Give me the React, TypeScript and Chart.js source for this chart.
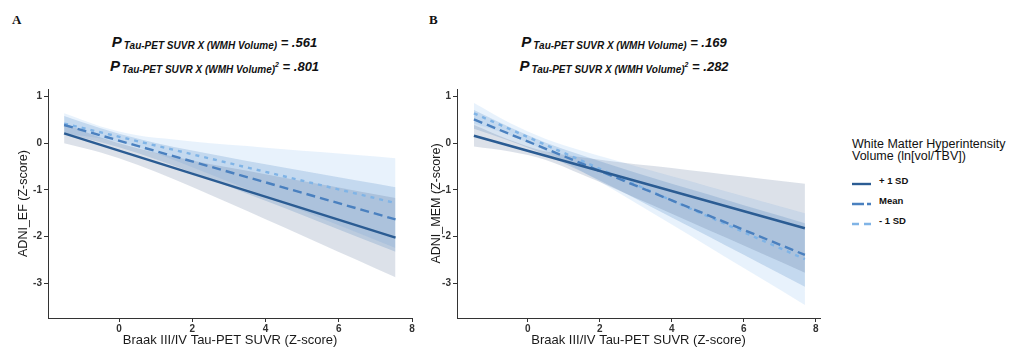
import React, { useEffect, useRef } from 'react';
import { Chart, registerables } from 'chart.js';

Chart.register(...registerables);

const FONT = '"Liberation Sans", Arial, Helvetica, sans-serif';

// ---------- Panel A : ADNI_EF ----------
const efLineX = [-1.5, 7.55];
const efPlusLine = [0.21, -2.02];
const efMeanLine = [0.39, -1.63];
const efMinusLine = [0.42, -1.28];
const efBandX = [-1.5, -0.5, 0.5, 1.5, 2.5, 3.5, 4.5, 5.5, 6.5, 7.55];
const efPlusUpper = [0.42, 0.12, -0.11, -0.29, -0.45, -0.59, -0.74, -0.88, -1.02, -1.17];
const efPlusLower = [0.0, -0.2, -0.46, -0.77, -1.11, -1.45, -1.8, -2.15, -2.5, -2.87];
const efMeanUpper = [0.58, 0.32, 0.1, -0.08, -0.23, -0.38, -0.52, -0.66, -0.8, -0.94];
const efMeanLower = [0.2, 0.02, -0.21, -0.48, -0.77, -1.08, -1.38, -1.69, -2.0, -2.32];
const efMinusUpper = [0.64, 0.36, 0.17, 0.08, 0.0, -0.06, -0.13, -0.19, -0.25, -0.32];
const efMinusLower = [0.2, 0.1, -0.08, -0.36, -0.67, -0.98, -1.29, -1.6, -1.91, -2.24];
const efXTicks = [0, 2, 4, 6, 8];
const efPValues = ['.561', '.801'];

// ---------- Panel B : ADNI_MEM ----------
const memLineX = [-1.5, 7.7];
const memPlusLine = [0.16, -1.82];
const memMeanLine = [0.51, -2.39];
const memMinusLine = [0.64, -2.48];
const memBandX = [-1.5, -0.5, 0.5, 1.5, 2.5, 3.5, 4.5, 5.5, 6.5, 7.7];
const memPlusUpper = [0.39, 0.07, -0.18, -0.3, -0.4, -0.49, -0.58, -0.67, -0.76, -0.87];
const memPlusLower = [-0.07, -0.18, -0.36, -0.67, -1.0, -1.34, -1.68, -2.02, -2.36, -2.77];
const memMeanUpper = [0.71, 0.34, 0.01, -0.26, -0.51, -0.75, -0.98, -1.21, -1.44, -1.71];
const memMeanLower = [0.31, 0.05, -0.25, -0.61, -0.99, -1.39, -1.79, -2.19, -2.59, -3.07];
const memMinusUpper = [0.86, 0.43, 0.09, -0.16, -0.38, -0.6, -0.81, -1.03, -1.24, -1.5];
const memMinusLower = [0.42, 0.17, -0.17, -0.6, -1.05, -1.51, -1.97, -2.44, -2.9, -3.46];
const memXTicks = [0, 2, 4, 6, 8];
const memPValues = ['.169', '.282'];

// ---------- shared ----------
const yTicks = [1, 0, -1, -2, -3];
const xAxisTitle = 'Braak III/IV Tau-PET SUVR (Z-score)';
const legendTitle = ['White Matter Hyperintensity', 'Volume (ln[vol/TBV])'];
const legendLabels = ['+ 1 SD', 'Mean', '- 1 SD'];
const subText = 'Tau-PET SUVR X (WMH Volume)';

const LINE_COLORS = ['#2b5c93', '#4a80bf', '#80b4e6'];
const BAND_COLORS = ['rgba(70, 95, 140, 0.19)', 'rgba(60, 125, 190, 0.21)', 'rgba(120, 180, 235, 0.17)'];
const DASHES: number[][] = [[], [9, 5], [4, 5]];

type PanelCfg = {
  yTitle: string;
  lineX: number[];
  lines: number[][];
  bandX: number[];
  bands: number[][][];
  xTicks: number[];
  xMin: number;
  xMax: number;
  yAxisWidth: number;
  yTitlePad: number;
  padRight: number;
};

const toPts = (xs: number[], ys: number[]) => xs.map((x, i) => ({ x, y: ys[i] }));

function buildConfig(p: PanelCfg): any {
  const datasets: any[] = [];
  p.lines.forEach((ys, i) => {
    datasets.push({
      label: legendLabels[i],
      data: toPts(p.lineX, ys),
      borderColor: LINE_COLORS[i],
      borderWidth: 2.4,
      borderDash: DASHES[i],
      pointRadius: 0,
      fill: false,
      tension: 0,
      order: 0,
    });
  });
  p.bands.forEach(([up, lo], i) => {
    datasets.push({
      label: 'band-up-' + i,
      data: toPts(p.bandX, up),
      borderWidth: 0,
      borderColor: 'rgba(0,0,0,0)',
      backgroundColor: BAND_COLORS[i],
      pointRadius: 0,
      fill: '+1',
      cubicInterpolationMode: 'monotone',
      order: 1,
    });
    datasets.push({
      label: 'band-lo-' + i,
      data: toPts(p.bandX, lo),
      borderWidth: 0,
      borderColor: 'rgba(0,0,0,0)',
      pointRadius: 0,
      fill: false,
      cubicInterpolationMode: 'monotone',
      order: 1,
    });
  });

  const grid = { display: true, drawOnChartArea: false, drawTicks: true, tickLength: 4, color: '#333', lineWidth: 1 };
  const border = { display: true, color: '#333', width: 1 };
  const tickFont = { family: FONT, size: 10, weight: 'bold' as const };

  return {
    type: 'line',
    data: { datasets },
    options: {
      animation: false,
      responsive: false,
      maintainAspectRatio: false,
      layout: { padding: { left: 0, right: p.padRight, top: 9, bottom: 0 } },
      plugins: { legend: { display: false }, tooltip: { enabled: false } },
      scales: {
        x: {
          type: 'linear',
          min: p.xMin,
          max: p.xMax,
          afterBuildTicks: (ax: any) => {
            ax.ticks = p.xTicks.map((v) => ({ value: v }));
          },
          afterFit: (s: any) => {
            s.height = 32;
          },
          grid,
          border,
          ticks: { autoSkip: false, maxRotation: 0, padding: 1, color: '#333', font: tickFont, callback: (v: any) => String(v) },
          title: { display: true, text: xAxisTitle, color: '#1a1a1a', font: { family: FONT, size: 13 }, padding: { top: 0, bottom: 1.5 } },
        },
        y: {
          type: 'linear',
          min: -3.74,
          max: 1.16,
          afterBuildTicks: (ax: any) => {
            ax.ticks = yTicks.map((v) => ({ value: v }));
          },
          afterFit: (s: any) => {
            s.width = p.yAxisWidth;
          },
          grid,
          border,
          ticks: { autoSkip: false, padding: 2, color: '#333', font: tickFont, callback: (v: any) => String(v) },
          title: { display: true, text: p.yTitle, color: '#1a1a1a', font: { family: FONT, size: 12.5 }, padding: { top: p.yTitlePad, bottom: 0 } },
        },
      },
    },
  };
}

const panelA: PanelCfg = {
  yTitle: 'ADNI_EF (Z-score)',
  lineX: efLineX,
  lines: [efPlusLine, efMeanLine, efMinusLine],
  bandX: efBandX,
  bands: [
    [efPlusUpper, efPlusLower],
    [efMeanUpper, efMeanLower],
    [efMinusUpper, efMinusLower],
  ],
  xTicks: efXTicks,
  xMin: -1.94,
  xMax: 8.0,
  yAxisWidth: 48,
  yTitlePad: 16.5,
  padRight: 8,
};

const panelB: PanelCfg = {
  yTitle: 'ADNI_MEM (Z-score)',
  lineX: memLineX,
  lines: [memPlusLine, memMeanLine, memMinusLine],
  bandX: memBandX,
  bands: [
    [memPlusUpper, memPlusLower],
    [memMeanUpper, memMeanLower],
    [memMinusUpper, memMinusLower],
  ],
  xTicks: memXTicks,
  xMin: -1.97,
  xMax: 8.12,
  yAxisWidth: 47,
  yTitlePad: 19.5,
  padRight: 10,
};

function PanelChart({ left, cfg }: { left: number; cfg: PanelCfg }) {
  const ref = useRef<HTMLCanvasElement | null>(null);
  useEffect(() => {
    if (!ref.current) return;
    const chart = new Chart(ref.current, buildConfig(cfg));
    return () => chart.destroy();
  }, []);
  return (
    <canvas
      ref={ref}
      width={420}
      height={270}
      style={{ position: 'absolute', left, top: 80, width: 420, height: 270 }}
    />
  );
}

function PTitle({ cx, top, squared, value }: { cx: number; top: number; squared: boolean; value: string }) {
  return (
    <div
      style={{
        position: 'absolute',
        left: cx,
        top,
        transform: 'translateX(-50%)',
        whiteSpace: 'nowrap',
        fontFamily: FONT,
        fontStyle: 'italic',
        fontWeight: 'bold',
        color: '#111',
        fontSize: 15,
        lineHeight: '16px',
      }}
    >
      <span>P</span>
      <span style={{ fontSize: 10, position: 'relative', top: 2, marginLeft: 2 }}>
        {subText}
        {squared && <span style={{ fontSize: 7, position: 'relative', top: -6 }}>2</span>}
      </span>
      <span style={{ fontSize: 13 }}>{' = ' + value}</span>
    </div>
  );
}

function LegendKey({ idx, top }: { idx: number; top: number }) {
  const dash = idx === 0 ? undefined : idx === 1 ? '12 3' : '7 5';
  return (
    <div style={{ position: 'absolute', left: 852, top, height: 12 }}>
      <svg width={19} height={6} style={{ position: 'absolute', left: 0, top: 2 }}>
        <line x1={0} y1={3} x2={19} y2={3} stroke={LINE_COLORS[idx]} strokeWidth={2.4} strokeDasharray={dash} />
      </svg>
      <div
        style={{
          position: 'absolute',
          left: 27,
          top: -3,
          whiteSpace: 'nowrap',
          fontFamily: FONT,
          fontSize: 9.5,
          fontWeight: 'bold',
          lineHeight: '10px',
          color: '#111',
        }}
      >
        {legendLabels[idx]}
      </div>
    </div>
  );
}

export default function App() {
  return (
    <div
      style={{
        position: 'absolute',
        left: 0,
        top: 0,
        width: 1011,
        height: 350,
        background: '#fff',
        overflow: 'hidden',
      }}
    >
      <div style={{ position: 'absolute', left: 12, top: 12, fontFamily: '"Liberation Serif", "Times New Roman", serif', fontWeight: 'bold', fontSize: 13, color: '#111' }}>A</div>
      <div style={{ position: 'absolute', left: 429, top: 12, fontFamily: '"Liberation Serif", "Times New Roman", serif', fontWeight: 'bold', fontSize: 13, color: '#111' }}>B</div>

      <PTitle cx={214.5} top={33.5} squared={false} value={efPValues[0]} />
      <PTitle cx={214.5} top={57.8} squared={true} value={efPValues[1]} />
      <PTitle cx={624} top={33.5} squared={false} value={memPValues[0]} />
      <PTitle cx={624} top={57.8} squared={true} value={memPValues[1]} />

      <PanelChart left={0} cfg={panelA} />
      <PanelChart left={410} cfg={panelB} />

      <div
        style={{
          position: 'absolute',
          left: 852,
          top: 137.7,
          whiteSpace: 'nowrap',
          fontFamily: FONT,
          fontSize: 12.5,
          lineHeight: '12px',
          color: '#111',
        }}
      >
        {legendTitle[0]}
        <br />
        {legendTitle[1]}
      </div>
      <LegendKey idx={0} top={178.7} />
      <LegendKey idx={1} top={198.7} />
      <LegendKey idx={2} top={218.7} />
    </div>
  );
}
